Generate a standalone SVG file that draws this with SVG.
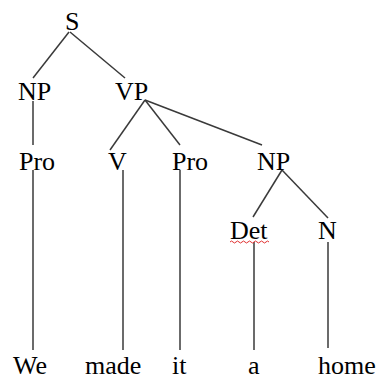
<svg xmlns="http://www.w3.org/2000/svg" width="379" height="380" viewBox="0 0 379 380">
<style>
text { font-family: "Liberation Serif", "Times New Roman", serif; font-size: 26px; fill: #000; }
.e { stroke: #3a3a3a; stroke-width: 1.5; fill: none; }
</style>
<rect width="379" height="380" fill="#fff"/>
<g id="connectors">
<line class="e" x1="69" y1="32" x2="33" y2="78"/>
<line class="e" x1="70" y1="32" x2="125" y2="78"/>
<line class="e" x1="33" y1="101" x2="33" y2="145"/>
<line class="e" x1="145" y1="100" x2="110" y2="150"/>
<line class="e" x1="145" y1="100" x2="180" y2="145"/>
<line class="e" x1="145" y1="100" x2="262" y2="145"/>
<line class="e" x1="282" y1="170" x2="253" y2="217"/>
<line class="e" x1="282" y1="170" x2="328" y2="218"/>
<line class="e" x1="33" y1="170" x2="33" y2="350"/>
<line class="e" x1="123" y1="170" x2="123" y2="350"/>
<line class="e" x1="180" y1="170" x2="180" y2="350"/>
<line class="e" x1="254" y1="242" x2="254" y2="350"/>
<line class="e" x1="328" y1="242" x2="328" y2="348"/>
</g>
<g id="S"><text x="65" y="30">S</text></g>
<g id="NP1"><text x="18" y="100">NP</text></g>
<g id="VP"><text x="115" y="100">VP</text></g>
<g id="Pro1"><text x="19" y="170">Pro</text></g>
<g id="V"><text x="108" y="170">V</text></g>
<g id="Pro2"><text x="172" y="170">Pro</text></g>
<g id="NP2"><text x="257" y="170">NP</text></g>
<g id="Det"><text x="230" y="239">Det</text>
<path d="M230 242 q1.5 -2 3 0 t3 0 t3 0 t3 0 t3 0 t3 0 t3 0 t3 0 t3 0 t3 0 t3 0 t3 0 t3 0" stroke="#e03030" stroke-width="1" fill="none"/></g>
<g id="N"><text x="318" y="239">N</text></g>
<g id="We"><text x="13" y="374">We</text></g>
<g id="made"><text x="85" y="374">made</text></g>
<g id="it"><text x="172" y="374">it</text></g>
<g id="a"><text x="248" y="374">a</text></g>
<g id="home"><text x="318" y="374">home</text></g>
</svg>
